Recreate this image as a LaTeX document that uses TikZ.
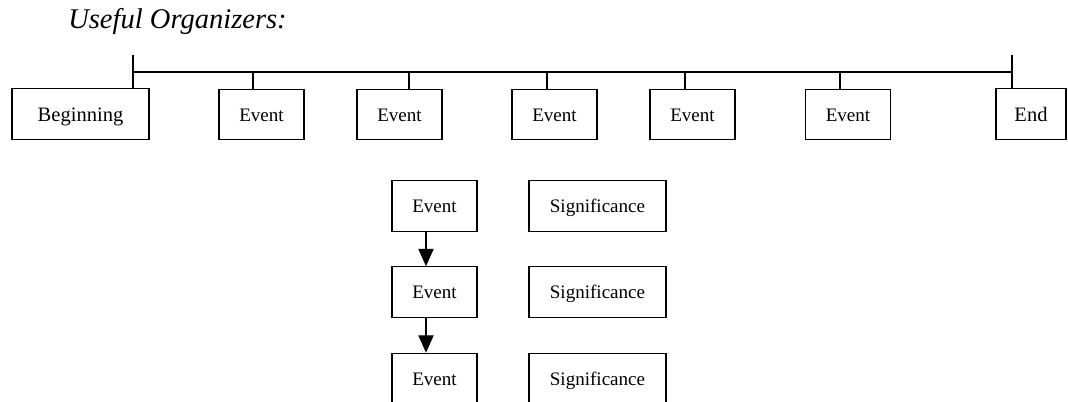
\documentclass[tikz,border=0pt]{standalone}
\usepackage{fontspec}
\setmainfont{Liberation Serif}
\usetikzlibrary{arrows.meta, calc}

\begin{document}
\begin{tikzpicture}[x=0.75pt, y=-0.75pt,
  box/.style={draw, line width=0.8pt, inner sep=0pt, minimum height=38pt,
    text height=9.8pt, text depth=0pt},
  wide/.style={box, minimum width=102.75pt, text height=11pt, font=\fontsize{15.4}{18}\selectfont},
  narrow/.style={box, minimum width=63.75pt, font=\fontsize{14.3}{17}\selectfont},
  sig/.style={box, minimum width=102.75pt, font=\fontsize{14.3}{17}\selectfont},
  link/.style={line width=0.8pt},
  flow/.style={line width=0.8pt, -{Triangle[length=13pt, width=11.5pt]}}]
  \useasboundingbox (0,0) rectangle (1068,402);

  % Heading
  \node[anchor=base west, inner sep=0pt, font=\fontsize{21.4}{25}\selectfont\itshape] (title) at (68,29) {Useful Organizers:};

  % Timeline: end boxes
  \node[wide] (beg) at (80.5,114) {Beginning};
  \node[wide, minimum width=52.5pt] (end) at (1031,114) {End};
  \coordinate (tb) at (133,72);
  \coordinate (te) at (1012,72);
  \coordinate (tbtop) at (133,55);
  \coordinate (tetop) at (1012,55);
  \draw[link] (tb) -- (te);
  \draw[link] (tbtop) -- (tbtop |- beg.north);
  \draw[link] (tetop) -- (tetop |- end.north);
  % Timeline: events hanging from the line
  \foreach \i/\cx/\tx in {1/261.5/253, 2/399.5/409, 3/554.5/547, 4/692.5/685, 5/848/840} {
    \node[narrow] (ev\i) at (\cx,114.5) {Event};
    \coordinate (t\i) at (\tx,72);
    \draw[link] (t\i) -- (t\i |- ev\i.north);
  }

  % Event chain with significance
  \foreach \j/\cy in {1/206, 2/292, 3/378.5} {
    \node[narrow] (ch\j) at (434.5,\cy) {Event};
    \node[sig] (sg\j) at (597.5,\cy) {Significance};
  }
  \draw[flow] ($(ch1.south)+(-8.5,0)$) -- ($(ch2.north)+(-8.5,0)$);
  \draw[flow] ($(ch2.south)+(-8.5,0)$) -- ($(ch3.north)+(-8.5,0)$);
\end{tikzpicture}
\end{document}
